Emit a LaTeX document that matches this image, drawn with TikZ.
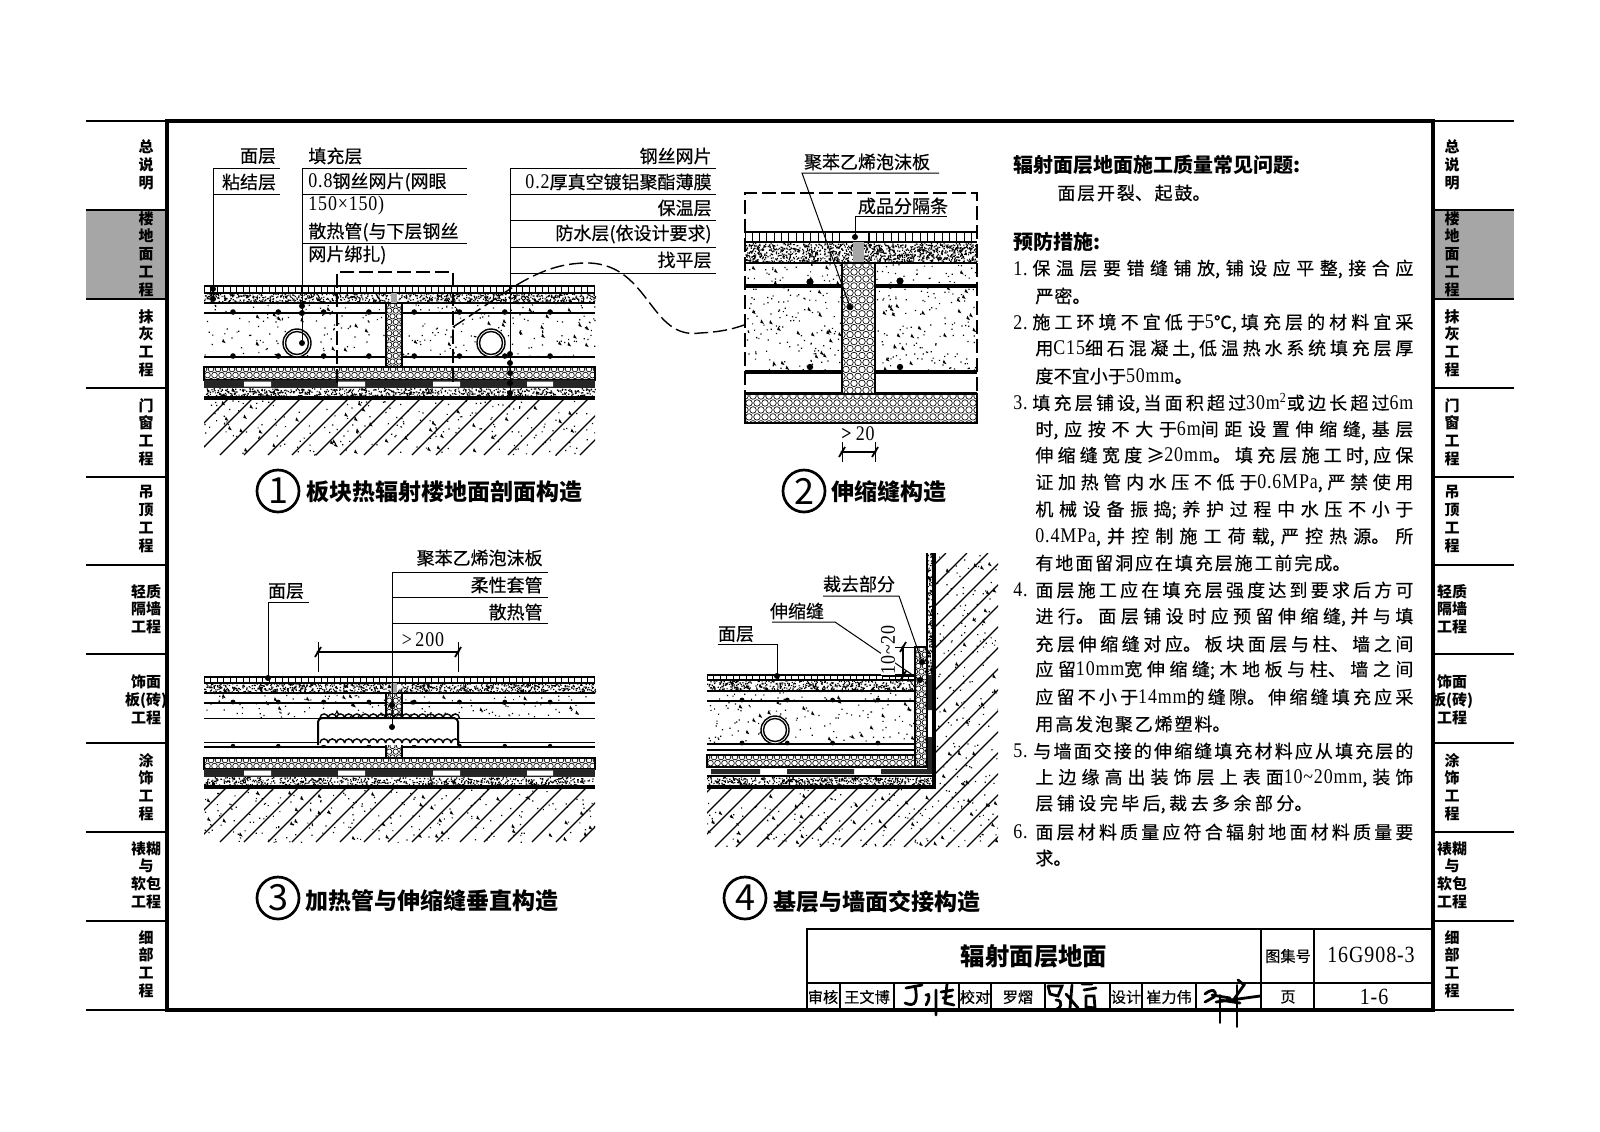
\documentclass[tikz,border=0pt]{standalone}
\usepackage{fontspec}
\setmainfont{Noto Sans CJK SC}
\newfontfamily\lfont[FakeBold=0.35]{Noto Sans CJK SC}
\newfontfamily\nfont[FakeStretch=0.86,Scale=1.16,LetterSpace=4]{Liberation Serif}
\newcommand{\nf}[1]{{\nfont #1}}
\tikzset{
  thinl/.style={line width=.5pt},
  steel/.style={line width=1.3pt},
  heavy/.style={line width=1.6pt},
  lab/.style={inner sep=0pt,font=\fontsize{9}{10}\selectfont\lfont},
  captxt/.style={inner sep=0pt,font=\fontsize{11.5}{13}\selectfont\bfseries},
  numc/.style={draw,circle,line width=1.35pt,minimum size=21pt,inner sep=0pt,font=\fontsize{18}{20}\selectfont},
  tabtxt/.style={inner sep=0pt,align=center,font=\fontsize{7.5}{8.9}\selectfont\bfseries},
  bodyt/.style={inner sep=0pt,font=\fontsize{9}{11}\selectfont\lfont},
  tblk/.style={inner sep=0pt,font=\fontsize{7.6}{10}\selectfont\lfont},
  sig/.style={line width=1.4pt,line cap=round},
}
% justified single line
\newcommand{\jl}[4]{\node[bodyt,anchor=west] (L#3) at (#1,#3) {\parbox{\dimexpr 0.5pt*\numexpr#2-#1\relax\relax}{\parfillskip=0pt \XeTeXlinebreaklocale "zh"\XeTeXlinebreakskip=0pt plus 1fil\relax #4}};}
\newcommand{\nm}[3]{\node[bodyt,anchor=west] (N#3) at (#1,#2) {\nf{#3}};}
% stipple: x0 y0 x1 y1 ndots ntriangles
\newcommand{\speck}[6]{%
 \fill foreach \ii in {1,...,#5} {({#1+rnd*(#3-#1)},{#2+rnd*(#4-#2)}) rectangle +(1.2,1.2)};
 \fill foreach \ii in {1,...,#6} {({#1+2+rnd*(#3-#1-4)},{#2+3+rnd*(#4-#2-4)}) -- ++(3.6,1.2) -- ++(-2.6,-4.4) -- cycle};}
% honeycomb: x0 y0 x1 y1 pitch
\newcommand{\foam}[5]{%
 \begin{scope}
 \clip (#1,#2) rectangle (#3,#4);
 \fill[white] (#1,#2) rectangle (#3,#4);
 \pgfmathtruncatemacro{\fnr}{(#4-#2)/(0.87*#5)+1}
 \pgfmathtruncatemacro{\fnc}{(#3-#1)/#5+1}
 \foreach \rr in {0,...,\fnr}{%
   \pgfmathsetmacro{\foff}{mod(\rr,2)*0.5*#5}
   \draw[line width=.33pt] foreach \cc in {0,...,\fnc} {({#1+\cc*#5+\foff},{#2+2+\rr*0.87*#5}) circle[radius={0.41*#5}]};}
 \end{scope}
 \draw[line width=.7pt] (#1,#2) rectangle (#3,#4);}
% tile: x0 y0 x1 y1 pitch
\newcommand{\tile}[5]{%
 \draw[line width=.7pt] (#1,#2) -- (#3,#2) (#1,#4) -- (#3,#4);
 \pgfmathtruncatemacro{\tn}{(#3-#1)/#5}
 \draw[line width=.45pt] foreach \cc in {0,...,\tn} {({#1+\cc*#5},#2) -- ({#1+\cc*#5},#4)};}
% hatch: xstart xsecond xend ybottom ytop
\newcommand{\hatchl}[5]{\draw[line width=.6pt] foreach \hx in {#1,#2,...,#3} {(\hx,#4) -- ({\hx+#4-#5},#5)};}
\newcommand{\ldot}[2]{\fill (#1,#2) circle[radius=3];}
\newcommand{\dtick}[2]{\draw[line width=.9pt] ({#1-3},{#2+5}) -- ({#1+3},{#2-5});\fill (#1,#2) circle[radius=1.6];}
\newcommand{\sdots}[5]{\fill foreach \cc in {0,...,#4} {({#1+\cc*#3},#2) circle[radius=#5]};}
\begin{document}
\begin{tikzpicture}[x=0.5pt,y=-0.5pt]
\useasboundingbox (0,0) rectangle (1600,1131);
\fill[white] (0,0) rectangle (1600,1131);
\pgfmathsetseed{4711}
% ---------- frame and tabs
\fill[black!35] (86,210) rectangle (165,299);
\fill[black!35] (1435,210) rectangle (1514,299);
\draw[line width=.8pt] foreach \yy in {121,210,299,388,477,565,654,743,832,921,1010} {(86,\yy) -- (167,\yy) (1433,\yy) -- (1514,\yy)};
\draw[line width=1.7pt] (167,121) rectangle (1433,1010);
\foreach \xx/\pp in {146/a,1452/b}{
 \node[tabtxt] (\pp1) at (\xx,165) {总\\说\\明};
 \node[tabtxt] (\pp2) at (\xx,254) {楼\\地\\面\\工\\程};
 \node[tabtxt] (\pp3) at (\xx,343) {抹\\灰\\工\\程};
 \node[tabtxt] (\pp4) at (\xx,432) {门\\窗\\工\\程};
 \node[tabtxt] (\pp5) at (\xx,519) {吊\\顶\\工\\程};
 \node[tabtxt] (\pp6) at (\xx,609) {轻质\\隔墙\\工程};
 \node[tabtxt] (\pp7) at (\xx,700) {饰面\\板(砖)\\工程};
 \node[tabtxt] (\pp8) at (\xx,787) {涂\\饰\\工\\程};
 \node[tabtxt] (\pp9) at (\xx,875) {裱糊\\与\\软包\\工程};
 \node[tabtxt] (\pp0) at (\xx,964) {细\\部\\工\\程};
}
% ---------- section 1
\speck{204}{293}{595}{303}{1000}{0}
\speck{204}{304}{595}{356}{230}{34}
\speck{204}{388}{595}{398}{900}{0}
\begin{scope}
 \clip (204,398) rectangle (595,455);
 \hatchl{100}{124}{600}{455}{398}
 \speck{204}{400}{595}{455}{200}{36}
\end{scope}
\tile{204}{286}{595}{293}{6.5}
\draw[line width=.8pt] (204,303) -- (595,303);
\draw[steel] (204,313) -- (595,313) (204,357) -- (595,357);
\sdots{233}{312}{45.3}{7}{2.8}
\sdots{233}{356}{45.3}{7}{2.8}
\foam{204}{367}{595}{380}{7}
\fill[black!85] (204,380) rectangle (595,388);
\fill[white] (244,381.5) rectangle (271,386.5) (338,381.5) rectangle (365,386.5) (433,381.5) rectangle (460,386.5) (527,381.5) rectangle (553,386.5);
\draw[heavy] (204,398) -- (595,398);
\foam{386}{303}{402}{367}{6.5}
\fill[black!35] (391,293) rectangle (397,303);
\foreach \px in {297,491}{
 \draw[line width=.7pt,fill=white] (\px,343) circle[radius=14];
 \draw[line width=.7pt] (\px,343) circle[radius=11.5];
}
\draw[line width=.7pt,dash pattern=on 7pt off 2.5pt] (337,383) -- (337,272) -- (453,272) -- (453,383);
\coordinate (cvA) at (453,327);
\coordinate (cvB) at (744,325);
\draw[line width=.7pt,dash pattern=on 7pt off 2.5pt] (cvA) .. controls (510,290) and (540,262) .. (590,263) .. controls (650,266) and (650,340) .. (700,333) .. controls (718,332) and (730,330) .. (cvB);
% leaders 1
\coordinate (l1a) at (213,168);
\coordinate (l1b) at (213,299);
\draw[thinl] (280,168) -- (l1a) -- (l1b) (213,194) -- (280,194);
\ldot{213}{289}\ldot{213}{299}
\coordinate (l2a) at (302,168);
\coordinate (l2b) at (302,343);
\draw[thinl] (467,168) -- (l2a) -- (l2b) (302,194) -- (467,194) (302,243) -- (467,243);
\ldot{302}{306}\ldot{302}{313}\ldot{302}{343}
\coordinate (l3a) at (510,168);
\coordinate (l3b) at (510,393);
\draw[thinl] (716,168) -- (l3a) -- (l3b) (510,194) -- (716,194) (510,220) -- (716,220) (510,247) -- (716,247) (510,273) -- (716,273);
\ldot{510}{354}\ldot{510}{363}\ldot{510}{373}\ldot{510}{383}\ldot{510}{393}
\node[lab] (t1) at (258,156) {面层};
\node[lab] (t2) at (249,182) {粘结层};
\node[lab,anchor=west] (t3) at (308,156) {填充层};
\node[lab,anchor=west] (t4) at (308,182) {\nf{0.8}钢丝网片(网眼};
\node[lab,anchor=west] (t5) at (308,205) {\nf{150×150)}};
\node[lab,anchor=west] (t6) at (308,232) {散热管(与下层钢丝};
\node[lab,anchor=west] (t7) at (308,255) {网片绑扎)};
\node[lab,anchor=east] (t8) at (712,156) {钢丝网片};
\node[lab,anchor=east] (t9) at (712,182) {\nf{0.2}厚真空镀铝聚酯薄膜};
\node[lab,anchor=east] (t10) at (712,208) {保温层};
\node[lab,anchor=east] (t11) at (712,234) {防水层(依设计要求)};
\node[lab,anchor=east] (t12) at (712,260) {找平层};
\node[numc] (c1) at (278,491) {1};
\node[captxt,anchor=west] (k1) at (306,492) {板块热辐射楼地面剖面构造};
% ---------- section 2
\speck{745}{243}{977}{262}{1300}{0}
\speck{746}{264}{842}{371}{150}{26}
\speck{876}{264}{976}{371}{150}{26}
\tile{745}{232}{977}{242}{7.3}
\draw[line width=1.2pt] (869,232) -- (869,242);
\fill[white] (847,233) rectangle (868,241);
\draw[line width=.8pt] (745,263) -- (977,263) (745,393) -- (977,393);
\draw[heavy] (745,286) -- (977,286) (745,372) -- (977,372);
\fill (810,282) circle[radius=3.6] (900,281) circle[radius=3.6] (810,367) circle[radius=3.2] (900,367) circle[radius=3.2];
\fill[black!35] (853,242) rectangle (864,263);
\foam{745}{394}{977}{423}{8}
\foam{842}{263}{875}{394}{8}
\draw[line width=.7pt,dash pattern=on 7pt off 2.5pt] (745,423) -- (745,193) -- (977,193) -- (977,423);
\coordinate (m1) at (802,173);
\coordinate (m2) at (850,307);
\coordinate (m3) at (855,216);
\coordinate (m4) at (855,237);
\draw[thinl] (939,173) -- (m1) -- (m2);
\draw[thinl] (947,216) -- (m3) -- (m4);
\ldot{850}{307}\ldot{855}{237}
\node[lab] (t13) at (867,162) {聚苯乙烯泡沫板};
\node[lab] (t14) at (903,206) {成品分隔条};
\node[lab] (t15) at (858,434) {\nf{\textbf{>}\,20}};
\draw[thinl] (842,442) -- (842,462) (875,442) -- (875,462);
\draw[line width=.7pt] (842,452) -- (875,452);
\dtick{842}{452}\dtick{875}{452}
\node[numc] (c2) at (804,491) {2};
\node[captxt,anchor=west] (k2) at (831,492) {伸缩缝构造};
% ---------- section 3
\speck{204}{683}{595}{693}{1000}{0}
\speck{204}{694}{595}{717}{120}{20}
\speck{204}{777}{595}{787}{900}{0}
\begin{scope}
 \clip (204,787) rectangle (595,842);
 \hatchl{100}{124}{600}{842}{787}
 \speck{204}{789}{595}{842}{200}{36}
\end{scope}
\tile{204}{677}{595}{683}{6.5}
\draw[line width=.8pt] (204,693) -- (595,693);
\draw[steel] (204,703) -- (595,703) (204,747) -- (595,747);
\sdots{233}{702}{45.3}{7}{2.4}
\draw[thinl] (204,718) -- (595,718) (204,742) -- (595,742);
\sdots{233}{746}{45.3}{7}{2.2}
\foam{204}{758}{595}{769}{7}
\fill[black!85] (204,769) rectangle (595,777);
\fill[white] (244,770.5) rectangle (271,775.5) (338,770.5) rectangle (365,775.5) (433,770.5) rectangle (460,775.5) (527,770.5) rectangle (553,775.5);
\draw[heavy] (204,787) -- (595,787);
\foam{386}{693}{402}{718}{6.5}
\foam{386}{744}{402}{758}{6.5}
\fill[black!35] (391,683) rectangle (397,693);
\draw[line width=1pt,rounded corners=2pt,fill=white] (318,745) -- (318,718) -- (458,718) -- (458,745);
\draw[line width=.7pt] foreach \cc in {0,...,16} {({320+\cc*8.2},718) arc[start angle=180,end angle=360,radius=4.1]};
\draw[line width=.7pt] foreach \cc in {0,...,16} {({320+\cc*8.2},743) arc[start angle=180,end angle=360,radius=4.1]};
\coordinate (n1) at (392,572);
\coordinate (n2) at (392,727);
\coordinate (n3) at (268,602);
\coordinate (n4) at (268,678);
\draw[thinl] (548,572) -- (n1) -- (n2) (392,597) -- (548,597) (392,623) -- (548,623);
\draw[thinl] (309,602) -- (n3) -- (n4);
\ldot{392}{705}\ldot{392}{727}\ldot{268}{678}
\node[lab,anchor=east] (t16) at (543,558) {聚苯乙烯泡沫板};
\node[lab,anchor=east] (t17) at (543,585) {柔性套管};
\node[lab,anchor=east] (t18) at (543,612) {散热管};
\node[lab] (t19) at (286,591) {面层};
\node[lab] (t20) at (423,640) {\nf{>\,200}};
\draw[thinl] (318,642) -- (318,672) (458,642) -- (458,672);
\draw[line width=.7pt] (318,652) -- (458,652);
\dtick{318}{652}\dtick{458}{652}
\node[numc] (c3) at (278,898) {3};
\node[captxt,anchor=west] (k3) at (305,901) {加热管与伸缩缝垂直构造};
% ---------- section 4
\speck{707}{680}{915}{691}{550}{0}
\speck{707}{692}{915}{743}{130}{22}
\speck{707}{777}{934}{786}{550}{0}
\speck{927}{553}{934}{675}{260}{0}
\begin{scope}
 \clip (707,787) -- (936,787) -- (936,553) -- (998,553) -- (998,847) -- (707,847) -- cycle;
 \hatchl{400}{421}{1000}{847}{553}
 \speck{936}{555}{998}{847}{170}{30}
 \speck{707}{789}{936}{847}{120}{24}
\end{scope}
\tile{707}{675}{915}{680}{6.5}
\draw[line width=.8pt] (707,691) -- (915,691) (707,750) -- (915,750) (707,776) -- (934,776);
\draw[steel] (707,701) -- (915,701) (707,744) -- (915,744);
\sdots{742}{700}{45.3}{3}{2.4}
\sdots{742}{743}{45.3}{3}{2.4}
\draw[line width=.7pt,fill=white] (775,730) circle[radius=14];
\draw[line width=.7pt] (775,730) circle[radius=11.5];
\fill[black!85] (711,769) rectangle (760,774) (787,769) rectangle (854,774) (881,769) rectangle (930,774);
\fill[black!85] (927,675) rectangle (932,710) (927,737) rectangle (932,774);
\foam{707}{755}{927}{767}{7}
\foam{915}{647}{927}{767}{6.5}
\draw[line width=.8pt] (927,553) -- (927,647);
\draw[heavy] (934,553) -- (934,787) -- (707,787);
\coordinate (p1) at (718,644);
\coordinate (p2) at (777,644);
\coordinate (p3) at (777,676);
\coordinate (p4) at (772,622);
\coordinate (p5) at (835,622);
\coordinate (p6) at (920,680);
\coordinate (p7) at (823,596);
\coordinate (p8) at (899,596);
\coordinate (p9) at (922,662);
\draw[thinl] (p1) -- (p2) -- (p3);
\draw[thinl] (p4) -- (p5) -- (p6);
\draw[thinl] (p7) -- (p8) -- (p9);
\ldot{777}{676}\ldot{920}{680}\ldot{922}{662}
\draw[thinl] (882,647) -- (927,647) (882,676) -- (915,676);
\draw[line width=.7pt] (903,647) -- (903,676);
\dtick{903}{647}\dtick{903}{676}
\node[lab] (t21) at (736,634) {面层};
\node[lab] (t22) at (797,611) {伸缩缝};
\node[lab] (t23) at (859,584) {裁去部分};
\node[lab,rotate=90,fill=white] (t24) at (888,650) {\nf{10\textasciitilde 20}};
\node[numc] (c4) at (745,898) {4};
\node[captxt,anchor=west] (k4) at (773,902) {基层与墙面交接构造};
% ---------- text column
\node[inner sep=0pt,anchor=west,font=\fontsize{10}{12}\selectfont\bfseries] (h1) at (1013,165) {辐射面层地面施工质量常见问题:};
\jl{1057}{1210}{193}{面层开裂、起鼓。}
\node[inner sep=0pt,anchor=west,font=\fontsize{10}{12}\selectfont\bfseries] (h2) at (1013,242) {预防措施:};
\nm{1013}{269}{1.}
\jl{1032}{1413}{269}{保温层要错缝铺放,铺设应平整,接合应}
\jl{1035}{1090}{296}{严密。}
\nm{1013}{323}{2.}
\jl{1032}{1413}{323}{施工环境不宜低于\nf{5}℃,填充层的材料宜采}
\jl{1035}{1413}{349}{用\nf{C15}细石混凝土,低温热水系统填充层厚}
\jl{1035}{1192}{376}{度不宜小于\nf{50mm}。}
\nm{1013}{403}{3.}
\jl{1032}{1413}{403}{填充层铺设,当面积超过\nf{30m\textsuperscript{2}}或边长超过\nf{6m}}
\jl{1035}{1413}{430}{时,应按不大于\nf{6m}间距设置伸缩缝,基层}
\jl{1035}{1413}{456}{伸缩缝宽度≥\nf{20mm}。填充层施工时,应保}
\jl{1035}{1413}{483}{证加热管内水压不低于\nf{0.6MPa},严禁使用}
\jl{1035}{1413}{510}{机械设备振捣;养护过程中水压不小于}
\jl{1035}{1413}{537}{\nf{0.4MPa},并控制施工荷载,严控热源。所}
\jl{1035}{1350}{563}{有地面留洞应在填充层施工前完成。}
\nm{1013}{590}{4.}
\jl{1035}{1413}{590}{面层施工应在填充层强度达到要求后方可}
\jl{1035}{1413}{617}{进行。面层铺设时应预留伸缩缝,并与填}
\jl{1035}{1413}{644}{充层伸缩缝对应。板块面层与柱、墙之间}
\jl{1035}{1413}{670}{应留\nf{10mm}宽伸缩缝;木地板与柱、墙之间}
\jl{1035}{1413}{697}{应留不小于\nf{14mm}的缝隙。伸缩缝填充应采}
\jl{1035}{1230}{724}{用高发泡聚乙烯塑料。}
\nm{1013}{751}{5.}
\jl{1033}{1413}{751}{与墙面交接的伸缩缝填充材料应从填充层的}
\jl{1035}{1413}{778}{上边缘高出装饰层上表面\nf{10\textasciitilde 20mm},装饰}
\jl{1035}{1312}{804}{层铺设完毕后,裁去多余部分。}
\nm{1013}{832}{6.}
\jl{1035}{1413}{832}{面层材料质量应符合辐射地面材料质量要}
\jl{1035}{1070}{858}{求。}
% ---------- title block
\draw[line width=1.4pt] (807,1010) -- (807,929) -- (1433,929);
\draw[line width=.9pt] (807,983) -- (1433,983);
\draw[line width=.9pt] (1261,929) -- (1261,1010) (1314,929) -- (1314,1010);
\draw[line width=.6pt] foreach \xx in {840,894,959,991,1045,1110,1142,1196} {(\xx,983) -- (\xx,1010)};
\node[inner sep=0pt,font=\fontsize{12.2}{14}\selectfont\bfseries] (tt) at (1034,956) {辐射面层地面};
\node[tblk] (r1) at (823,997) {审核};
\node[tblk] (r2) at (867,997) {王文博};
\node[tblk] (r3) at (975,997) {校对};
\node[tblk] (r4) at (1018,997) {罗熠};
\node[tblk] (r5) at (1126,997) {设计};
\node[tblk] (r6) at (1169,997) {崔力伟};
\node[tblk] (r7) at (1288,997) {页};
\node[tblk] (r8) at (1288,956) {图集号};
\node[inner sep=0pt,font=\fontsize{10}{12}\selectfont] (r9) at (1371,955) {\nf{16G908-3}};
\node[inner sep=0pt,font=\fontsize{10}{12}\selectfont] (r10) at (1374,997) {\nf{1-6}};
% signatures
\draw[sig] (906,988) -- (922,985) (915,986) .. controls (918,1000) and (916,1008) .. (905,1003)
 (926,995) .. controls (930,992) and (930,1000) .. (926,1005) (936,990) -- (936,1015)
 (947,984) -- (945,1003) -- (954,1005) (941,992) -- (953,990) (943,998) -- (952,996);
\draw[sig] (1048,986) -- (1062,986) -- (1058,996) -- (1050,994) -- (1048,986) (1056,1000) .. controls (1064,1000) and (1062,1010) .. (1052,1010)
 (1072,985) -- (1070,1008) (1066,994) -- (1078,1008) (1082,984) -- (1092,984) (1084,990) -- (1096,988) (1086,996) -- (1094,996) -- (1095,1008) -- (1086,1007) -- (1086,996);
\draw[sig] (1205,994) .. controls (1212,988) and (1218,990) .. (1214,997) -- (1205,1002) (1212,995) -- (1230,998) (1216,1002) -- (1260,996) (1238,980) -- (1244,985) -- (1232,1002) (1220,1000) -- (1240,1003);
\draw[sig,line width=.9pt] (1220,995) -- (1220,1023) (1237,985) -- (1237,1027);
\end{tikzpicture}
\end{document}
